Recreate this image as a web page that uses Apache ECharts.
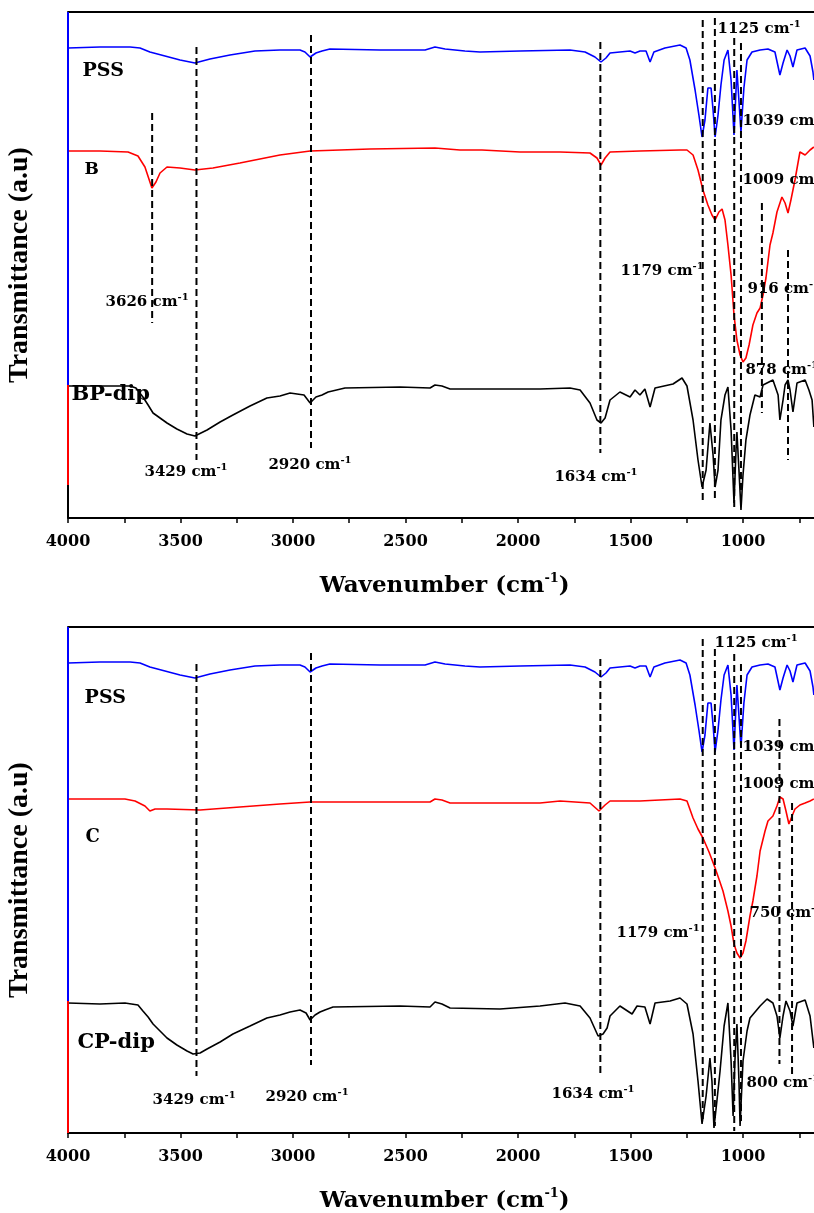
<!DOCTYPE html>
<html><head><meta charset="utf-8">
<script src="https://cdn.jsdelivr.net/npm/echarts@6/dist/echarts.min.js"></script>
<style>html,body{margin:0;padding:0;background:#fff}#c{width:814px;height:1213px}</style>
</head><body><div id="c"></div><script>
// ---------- DATA (wavenumber cm-1, transmittance a.u. offset within panel) ----------
const xTickLabels = [4000, 3500, 3000, 2500, 2000, 1500, 1000];

const pss = [[4000,470],[3858,471],[3724,471],[3680,470],[3636,466],[3569,462],[3502,458],[3436,455],[3369,459],[3280,463],[3169,467],[3058,468],[2969,468],[2947,466],[2924,461],[2898,465],[2871,467],[2836,469],[2613,468],[2413,468],[2369,471],[2324,469],[2236,467],[2169,466],[1991,467],[1769,468],[1702,466],[1658,461],[1631,456],[1609,460],[1591,465],[1547,466],[1502,467],[1480,465],[1458,467],[1431,467],[1413,456],[1396,466],[1347,470],[1280,473],[1253,470],[1236,458],[1213,428],[1196,403],[1182,381],[1169,398],[1156,430],[1142,430],[1133,408],[1124,381],[1111,403],[1098,433],[1084,458],[1067,468],[1053,438],[1040,383],[1027,448],[1009,386],[996,430],[982,458],[960,466],[924,468],[889,469],[858,466],[836,443],[822,455],[804,468],[791,462],[778,451],[760,468],[724,470],[702,462],[689,446],[685,438]];

const sampleB = [[4000,367],[3858,367],[3733,366],[3689,362],[3658,351],[3627,330],[3609,336],[3591,345],[3560,351],[3502,350],[3436,348],[3356,350],[3236,355],[3058,363],[2924,367],[2658,369],[2369,370],[2258,368],[2160,368],[1991,366],[1813,366],[1680,365],[1649,360],[1631,353],[1613,360],[1591,366],[1458,367],[1280,368],[1249,368],[1222,363],[1200,348],[1178,328],[1156,313],[1138,303],[1124,298],[1107,306],[1093,309],[1080,298],[1067,273],[1053,243],[1040,203],[1027,178],[1013,163],[1000,156],[987,160],[973,173],[956,193],[938,205],[924,210],[911,223],[898,240],[880,273],[867,285],[849,306],[827,321],[813,315],[800,305],[787,318],[769,338],[747,366],[724,363],[702,368],[685,371]];

const bpDip = [[4000,132],[3858,132],[3724,132],[3698,130],[3667,121],[3644,113],[3622,105],[3591,100],[3560,95],[3516,89],[3471,84],[3436,82],[3382,88],[3324,96],[3267,103],[3191,112],[3116,120],[3058,122],[3013,125],[2951,123],[2924,115],[2898,121],[2871,123],[2844,126],[2769,130],[2524,131],[2391,130],[2369,133],[2338,132],[2302,129],[2080,129],[1902,129],[1769,130],[1724,128],[1680,115],[1649,98],[1631,95],[1613,100],[1591,118],[1547,126],[1502,121],[1480,128],[1458,123],[1436,129],[1413,111],[1391,130],[1311,134],[1271,140],[1249,132],[1222,98],[1200,58],[1182,31],[1164,48],[1147,95],[1133,63],[1124,31],[1111,48],[1098,98],[1080,123],[1067,131],[1053,88],[1040,15],[1031,68],[1027,86],[1018,48],[1009,8],[1000,43],[987,78],[969,103],[947,123],[924,121],[911,133],[867,138],[844,123],[836,98],[822,118],[813,133],[800,138],[791,128],[778,106],[760,135],[724,138],[707,128],[693,118],[685,91]];

const sampleC = [[4000,334],[3858,334],[3747,334],[3702,332],[3658,327],[3636,322],[3613,324],[3591,324],[3560,324],[3413,323],[3236,326],[3058,329],[2924,331],[2658,331],[2391,331],[2369,334],[2338,333],[2302,330],[2080,330],[1902,330],[1813,332],[1680,330],[1640,322],[1613,328],[1591,332],[1458,332],[1280,334],[1249,332],[1222,315],[1200,304],[1178,295],[1151,281],[1124,265],[1107,254],[1089,242],[1067,222],[1053,207],[1040,189],[1027,180],[1013,175],[1000,180],[987,192],[969,217],[956,232],[938,257],[924,282],[902,302],[889,312],[867,317],[849,327],[836,336],[822,334],[809,322],[796,309],[782,317],[769,324],[747,328],[724,330],[702,332],[685,334]];

const cpDip = [[4000,130],[3858,129],[3747,130],[3689,128],[3667,122],[3644,116],[3622,109],[3591,102],[3560,95],[3516,88],[3471,82],[3444,79],[3413,80],[3382,84],[3324,91],[3267,99],[3191,107],[3116,115],[3058,118],[3013,121],[2969,123],[2942,120],[2924,113],[2902,118],[2880,121],[2858,123],[2822,126],[2524,127],[2391,126],[2369,131],[2338,129],[2302,125],[2080,124],[1902,127],[1791,130],[1724,127],[1680,115],[1644,97],[1622,99],[1604,105],[1591,117],[1547,127],[1493,119],[1471,127],[1436,126],[1413,109],[1391,130],[1324,132],[1280,135],[1249,129],[1222,99],[1200,52],[1182,9],[1164,37],[1147,75],[1138,52],[1129,5],[1116,32],[1102,62],[1084,107],[1067,130],[1053,72],[1044,17],[1036,72],[1027,109],[1018,52],[1013,7],[1000,72],[982,102],[969,115],[924,127],[893,134],[867,130],[849,117],[836,95],[822,117],[809,132],[791,122],[778,107],[760,130],[724,133],[702,117],[685,85]];

// dashed marker lines: [wavenumber, upper a.u., lower a.u.]
const dashTop = [[3626,405,195],[3429,471,58],[2920,483,70],[1634,476,65],[1179,498,16],[1125,500,20],[1039,480,11],[1009,475,28],[916,315,105],[800,268,58]];
const dashBottom = [[3429,469,57],[2920,480,68],[1634,474,59],[1179,494,10],[1125,484,7],[1039,479,2],[1009,469,12],[838,414,69],[782,330,59]];

// peak annotations: [label, wavenumber, a.u.]
const notesTop = [['3626',3831,215],['3429',3658,45],['2920',3107,52],['1634',1836,40],['1179',1542,246],['1125',1111,488],['1039',1000,396],['1009',1000,337],['916',978,228],['878',987,147]];
const notesBottom = [['3429',3622,32],['2920',3120,35],['1634',1849,38],['1179',1560,199],['1125',1124,489],['1039',1000,385],['1009',1000,348],['750',969,219],['800',982,49]];

// sample names: [name, wavenumber, a.u.]
const tagsTop = [['PSS',3933,446],['B',3924,348],['BP-dip',3982,123]];
const tagsBottom = [['PSS',3924,434],['C',3920,295],['CP-dip',3956,90]];

// left spine colour segments: [colour, from a.u., to a.u.]
const spineTop = [['#0000FF',506,133],['#FF0000',133,33],['#000000',33,0]];
const spineBottom = [['#0000FF',506,132],['#FF0000',132,0]];

// ---------- CHART ----------
const SERIF = 'DejaVu Serif';
const chart = echarts.init(document.getElementById('c'), null, {renderer:'canvas'});

const tagSize = {'PSS':19,'B':17,'C':18,'BP-dip':21,'CP-dip':21};
const noBorder = {textBorderWidth:0, textBorderColor:'transparent', textShadowBlur:0, opacity:1};

function xAxes(gi){
  return [{
    type:'value', gridIndex:gi, inverse:true, min:500, max:4000, interval:500, position:'bottom',
    axisLine:{show:true, onZero:false, lineStyle:{color:'#000', width:2}},
    axisTick:{show:true, inside:false, length:5, lineStyle:{color:'#000', width:1.5}},
    minorTick:{show:true, splitNumber:2, length:5, lineStyle:{color:'#000', width:1.5}},
    splitLine:{show:false}, minorSplitLine:{show:false},
    axisLabel:{show:true, margin:16, color:'#000', fontFamily:SERIF, fontWeight:'bold', fontSize:16,
      formatter:v => xTickLabels.indexOf(v) >= 0 ? String(v) : ''},
    name:'{a|Wavenumber (cm}{s|-1}{a|)}', nameLocation:'middle', nameGap:54,
    nameTextStyle:{padding:[0,34,0,0], rich:{
      a:{fontFamily:SERIF, fontWeight:'bold', fontSize:23, color:'#000', lineHeight:28},
      s:{fontFamily:SERIF, fontWeight:'bold', fontSize:13, color:'#000', verticalAlign:'top', lineHeight:28}}}
  },{
    type:'value', gridIndex:gi, inverse:true, min:500, max:4000, position:'top',
    axisLine:{show:true, onZero:false, lineStyle:{color:'#000', width:2}},
    axisTick:{show:false}, axisLabel:{show:false}, splitLine:{show:false}
  }];
}
function yAxis(gi){
  return {type:'value', gridIndex:gi, min:0, max:506,
    axisLine:{show:false}, axisTick:{show:false}, axisLabel:{show:false}, splitLine:{show:false},
    name:'Transmittance (a.u)', nameLocation:'middle', nameRotate:90, nameGap:34,
    nameTextStyle:{fontFamily:'Liberation Serif', fontWeight:'bold', fontSize:28, color:'#000'}};
}

const series = [];
function spectrum(data, color, gi){
  series.push({type:'line', xAxisIndex:gi*2, yAxisIndex:gi, data:data, symbol:'none', smooth:false,
    lineStyle:{color:color, width:1.6}, z:3, animation:false});
}
function dashes(list, gi){
  list.forEach(d => series.push({type:'line', xAxisIndex:gi*2, yAxisIndex:gi,
    data:[[d[0],d[1]],[d[0],d[2]]], symbol:'none', clip:false,
    lineStyle:{color:'#000', width:2, type:[7,4]}, z:4, animation:false}));
}
function spine(list, gi){
  list.forEach(s => series.push({type:'line', xAxisIndex:gi*2, yAxisIndex:gi,
    data:[[4000,s[1]],[4000,s[2]]], symbol:'none', clip:false,
    lineStyle:{color:s[0], width:2}, z:6, animation:false}));
}
function notes(list, gi){
  series.push({type:'scatter', xAxisIndex:gi*2, yAxisIndex:gi, symbolSize:1, clip:false,
    itemStyle:{color:'#fff', opacity:0}, z:8, animation:false, silent:true,
    data:list.map(n => ({name:n[0], value:[n[1], n[2]]})),
    label:Object.assign({show:true, position:[0,0], align:'left', verticalAlign:'middle', color:'#000',
      formatter:p => '{n|' + p.name + ' cm}{s|-1}',
      rich:{n:Object.assign({fontFamily:SERIF, fontWeight:'bold', fontSize:15, color:'#000', lineHeight:20}, noBorder),
            s:Object.assign({fontFamily:SERIF, fontWeight:'bold', fontSize:10, color:'#000', verticalAlign:'top', lineHeight:20}, noBorder)}}, noBorder)});
}
function tags(list, gi){
  list.forEach(t => series.push({type:'scatter', xAxisIndex:gi*2, yAxisIndex:gi, symbolSize:1, clip:false,
    itemStyle:{color:'#fff', opacity:0}, z:8, animation:false, silent:true,
    data:[{name:t[0], value:[t[1], t[2]]}],
    label:Object.assign({show:true, position:[0,0], align:'left', verticalAlign:'middle', formatter:'{b}',
      fontFamily:SERIF, fontWeight:'bold', fontSize:tagSize[t[0]], color:'#000'}, noBorder)}));
}

spectrum(pss, '#0000FF', 0); spectrum(sampleB, '#FF0000', 0); spectrum(bpDip, '#000000', 0);
spectrum(pss, '#0000FF', 1); spectrum(sampleC, '#FF0000', 1); spectrum(cpDip, '#000000', 1);
dashes(dashTop, 0); dashes(dashBottom, 1);
spine(spineTop, 0); spine(spineBottom, 1);
notes(notesTop, 0); notes(notesBottom, 1);
tags(tagsTop, 0); tags(tagsBottom, 1);

chart.setOption({
  animation:false,
  backgroundColor:'#fff',
  grid:[{left:68, top:12, width:787.5, height:506, containLabel:false, outerBoundsMode:'none'},
        {left:68, top:627, width:787.5, height:506, containLabel:false, outerBoundsMode:'none'}],
  xAxis:[...xAxes(0), ...xAxes(1)],
  yAxis:[yAxis(0), yAxis(1)],
  series:series
});
</script></body></html>
